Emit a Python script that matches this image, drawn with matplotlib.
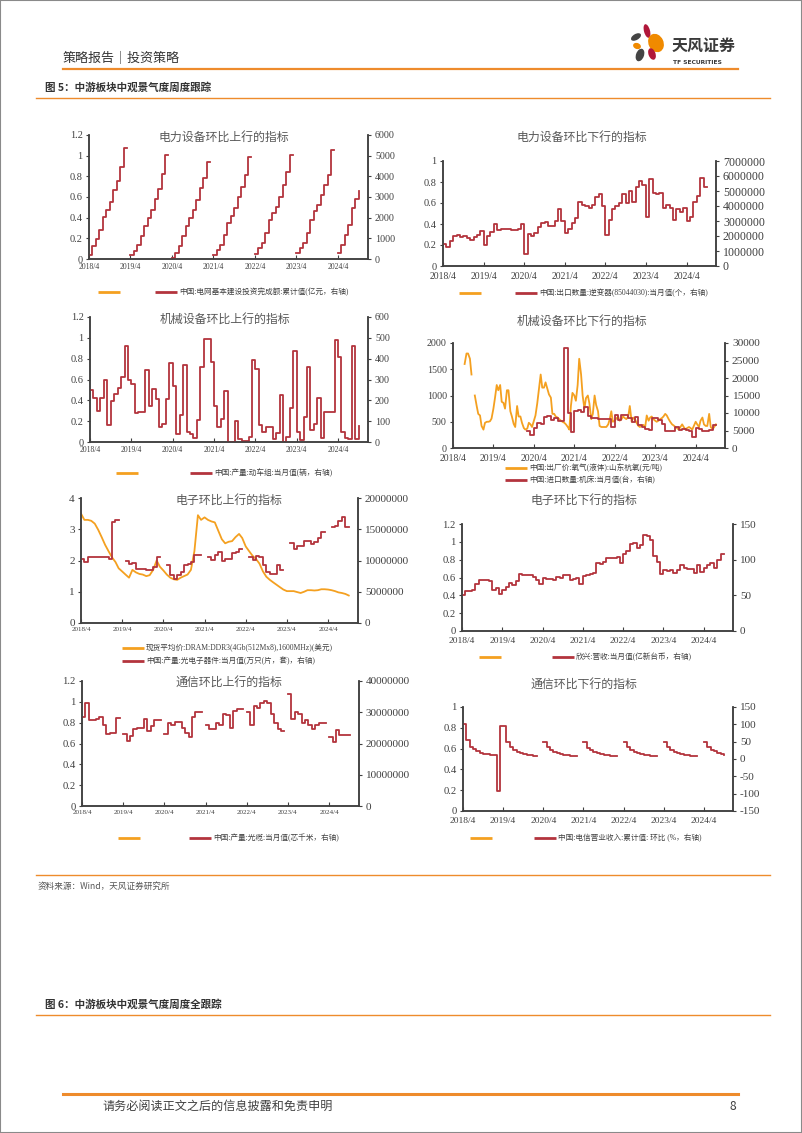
import numpy as np
import pandas as pd
import matplotlib
matplotlib.use("Agg")
import matplotlib.pyplot as plt
from matplotlib.patches import Ellipse, Rectangle
from matplotlib.ticker import FuncFormatter

nan = np.nan

# ---------------- data (monthly, first point = 2018/4) ----------------
# 电力设备上行: 中国:电网基本建设投资完成额:累计值 (亿元)
grid_invest = [210, 610, 980, 1415, 2010, 2350, 2780, 3345, 3780, 4470, 5355, nan,
               209, 402, 691, 1125, 1576, 1978, 2380, 2894, 3393, 4100, 5033, nan,
               50, 300, 640, 1090, 1620, 1980, 2380, 2860, 3420, 3900, 4710, nan,
               210, 450, 690, 1170, 1740, 2060, 2460, 3020, 3460, 4070, 4950, nan,
               260, 530, 770, 1250, 1900, 2220, 2540, 3020, 3590, 4230, 5030, nan,
               290, 530, 770, 1250, 1900, 2300, 2620, 3100, 3590, 4070, 5275, nan,
               290, 690, 1170, 1660, 2490, 2910, 3310]

# 电力设备下行: 中国:出口数量:逆变器 当月值 (百万个)
inverter_mn = [1.5, 1.3, 1.7, 2.0, 2.05, 1.95, 2.0, 1.85, 1.75, 1.95, 2.1, 2.35,
               1.4, 2.0, 2.3, 2.8, 2.4, 2.5, 2.5, 2.45, 2.4, 2.4, 2.45, 2.8,
               0.8, 2.15, 2.0, 2.2, 2.6, 2.9, 2.95, 2.7, 2.65, 3.0, 3.8, 3.0,
               2.2, 2.5, 2.9, 3.2, 4.3, 4.1, 4.0, 3.9, 4.1, 4.6, 4.8, 4.0,
               2.1, 3.1, 3.8, 4.0, 4.2, 4.8, 4.2, 5.0, 4.3, 5.3, 5.7, 5.4,
               3.3, 5.8, 4.9, 4.8, 4.9, 3.9, 4.1, 3.9, 3.1, 3.8, 3.6, 3.9,
               3.0, 3.3, 4.3, 4.7, 5.9, 5.3, 5.3]

# 机械设备上行: 中国:产量:动车组:当月值 (辆)
emu_output = [250, 210, 150, 210, 300, 80, 195, 230, 260, 310, 460, 300,
              280, 140, 145, 145, 345, 175, 255, 205, 70, 85, 205, 380,
              270, 40, 130, 370, 50, 40, 20, 105, 360, 495, 495, 385,
              175, 70, 110, 245, 0, 0, 100, 15, 5, 5, 25, 395,
              350, 80, 50, 70, 70, 15, 45, 225, 0, 25, 165, 435,
              50, 10, 120, 360, 60, 85, 210, 20, 145, 145, 145, 490,
              410, 50, 20, 15, 460, 15, 75]

# 机械设备下行: 氧气(液体)出厂价, half-monthly from 2018-07-15 (元/吨)
oxygen_price = [1600, 1800, 1800, 1700, 1400, nan, 1000, 800, 650, 620,
                420, 350, 480, 500, 500, 510, 560, 750, 950, 1200,
                1100, 1200, 880, 860, 750, 1100, 1100, 700, 600, 460,
                400, 800, 600, 600, 480, 380, 350, 370, 480, 450,
                400, 520, 620, 850, 1100, 1400, 1150, 1150, 1250, 1120,
                1020, 960, 650, 650, 600, 580, 550, 520, 500, 480,
                450, 400, 350, 800, 1050, 1000, 900, 1200, 1700, 1400,
                1000, 750, 950, 1000, 850, 550, 650, 1000, 820, 700,
                420, 400, 400, 400, 400, 450, 550, 700, 500, 520,
                560, 600, 520, 550, 600, 570, 550, 600, 800, 500,
                580, 550, 480, 420, 400, 430, 440, 400, 620, 520,
                580, 600, 550, 520, 500, 520, 550, 570, 600, 650,
                620, 550, 500, 450, 430, 400, 380, 350, 400, 450,
                400, 350, 380, 400, 380, 350, 420, 500, 450, 400,
                520, 580, 450, 420, 420, 650, 400, 360, 400, 450]

# 机械设备下行: 中国:进口数量:机床:当月值 (台)
machine_tool = [nan] * 22 + [
    5000, 3800, 5600, 7200, 7000, 9000, 9200, 8000, 8500, 7600, 7600,
    28500, 10000, 4500, 10500, 10800, 10200, 11800, 9200, 8600, 8500, 8300, 8300,
    8300, 8400, 6000, 9500, 8000, 9500, 9500, 8500, 7500, 9000, 6500, 6000,
    5500, 5200, 8500, 8500, 8000, 7000, 4800, 4800, 5000, 6000, 5200, 5500,
    5200, 5000, 3200, 5600, 5300, 4800, 4800, 5200, 6500, 6500]

# 电子上行: DRAM DDR3 现货平均价 (美元)
dram_price = [3.5, 3.3, 3.3, 3.27, 3.18, 2.98, 2.75, 2.5, 2.3, 2.1, 1.95, 1.75,
              1.65, 1.55, 1.45, 1.7, 1.62, 1.57, 1.55, 1.5, 1.53, 1.7, 2.0, 1.8,
              1.68, 1.55, 1.45, 1.4, 1.38, 1.45, 1.5, 1.55, 1.7, 2.3, 3.45, 3.3,
              3.38, 3.3, 3.25, 3.22, 2.95, 2.68, 2.55, 2.6, 2.62, 2.75, 2.85, 2.72,
              2.45, 2.3, 2.15, 2.05, 1.9, 1.65, 1.48, 1.38, 1.3, 1.22, 1.14, 1.07,
              1.02, 1.02, 1.02, 0.99, 0.96, 1.0, 1.05, 1.05, 1.04, 1.05, 1.08, 1.08,
              1.07, 1.05, 1.02, 0.98, 0.96, 0.93, 0.88]

# 电子上行: 中国:产量:光电子器件:当月值 (百万只)
optoelec_mn = [10.2, 9.7, 10.5, 10.5, 10.5, 10.5, 10.5, 10.5, 10.3, 16.2, 16.5, nan,
               nan, 10.0, 9.4, 9.6, 8.7, 8.6, 8.6, 8.4, 8.4, 9.0, 10.5, nan,
               nan, 9.3, 7.7, 7.0, 7.7, 8.1, 9.3, 9.5, 9.7, 10.9, 10.9, nan,
               nan, 10.6, 10.1, 10.9, 11.3, 9.9, 10.2, 10.2, 11.2, 11.4, 11.8, nan,
               nan, 10.6, 10.1, 10.7, 10.6, 9.3, 8.1, 7.9, 7.9, 9.3, 8.5, nan,
               nan, 12.8, 11.8, 12.3, 12.3, 13.1, 13.1, 12.6, 13.0, 13.6, 14.5, nan,
               nan, 15.4, 15.6, 16.4, 16.9, 15.4, 15.3]

# 电子下行: 欣兴:营收:当月值 (亿新台币)
unimicron_rev = [50, 56, 56, 58, 66, 72, 72, 72, 70, 58, 60, 52,
                 58, 62, 67, 65, 70, 80, 79, 79, 78, 76, 71, 66,
                 75, 73, 73, 71, 76, 75, 79, 79, 72, 73, 74, 66,
                 77, 79, 80, 82, 95, 94, 97, 102, 102, 103, 104, 95,
                 108, 112, 122, 123, 117, 120, 135, 133, 128, 105, 97, 80,
                 86, 84, 86, 82, 85, 92, 88, 87, 87, 82, 92, 83,
                 89, 93, 95, 88, 100, 108, 108]

# 通信上行: 中国:产量:光缆:当月值 (百万芯千米)
fiber_cable_mn = [28.5, 33, 27.5, 27.5, 28, 28.5, 26, 23, 23.5, 23.5, 28.3, nan,
                  23, 20.8, 22.5, 24.5, 25, 25, 28, 24, 25.5, 27.5, 27.5, nan,
                  23, 26.5, 26, 27, 27, 25, 23.5, 22, 28.5, 30, 30, nan,
                  26, 24.5, 24.5, 26.5, 26, 29.5, 29, 25, 30.5, 31, 31, nan,
                  30, 26, 32, 31.5, 33, 33.5, 33, 29.5, 26.5, 24.5, 24, nan,
                  36, 28, 30, 29.5, 26.5, 27.5, 26, 24.5, 26, 26.5, 26.5, nan,
                  22, 20.5, 24.2, 22.7, 22.7, 22.7, 22.7]

# 通信下行: 中国:电信营业收入:累计值:环比 (%)
telecom_mom = [100, 55, 35, 28, 22, 18, 15, 13, 12, 11, -92, 96,
               96, 50, 34, 25, 20, 16, 14, 12, 11, 10, nan, nan,
               50, 34, 25, 20, 16, 14, 12, 11, 10, 10, nan, nan,
               50, 33, 26, 21, 17, 14, 12, 11, 10, 9, nan, nan,
               50, 34, 25, 20, 16, 14, 12, 11, 10, 10, nan, nan,
               50, 34, 25, 20, 17, 14, 12, 11, 10, 10, nan, nan,
               50, 35, 25, 22, 18, 15, 12]

titles = ["电力设备环比上行的指标", "电力设备环比下行的指标",
          "机械设备环比上行的指标", "机械设备环比下行的指标",
          "电子环比上行的指标", "电子环比下行的指标",
          "通信环比上行的指标", "通信环比下行的指标"]

tick_dates = pd.date_range("2018-04-01", "2024-04-01", freq="12MS")
tick_labels = [f"{d.year}/{d.month}" for d in tick_dates]


def monthly(vals):
    return pd.date_range("2018-04-01", periods=len(vals), freq="MS")


# ---------------- style ----------------
W, H = 802, 1133
ORANGE = "#F4A020"
RED = "#B3343D"
AXC = "#404040"
PAGE_OR = "#EE8B2C"
CJK = ["Noto Sans CJK SC", "DejaVu Sans"]
LEG = ["Liberation Serif", "Noto Sans CJK SC"]
plt.rcParams["font.family"] = ["Liberation Serif", "Noto Sans CJK SC"]
plt.rcParams["axes.unicode_minus"] = False

fig = plt.figure(figsize=(W / 100, H / 100), dpi=100)
X0, X1 = pd.Timestamp("2018-04-01"), pd.Timestamp("2024-12-22")


def panel(box, llim, lticks, rlim, rticks, lfs, rfs, xfs, xpad):
    l, t, r, b = box
    ax = fig.add_axes([l / W, 1 - b / H, (r - l) / W, (b - t) / H])
    ax.set_facecolor("none")
    ax2 = ax.twinx()
    ax.set_xlim(X0, X1)
    ax.set_ylim(*llim)
    ax.set_yticks(lticks)
    ax2.set_ylim(*rlim)
    ax2.set_yticks(rticks)
    ax.set_xticks(tick_dates)
    ax.set_xticklabels(tick_labels)
    for a in (ax, ax2):
        for s in a.spines.values():
            s.set_color(AXC)
            s.set_linewidth(1.1)
        a.spines["top"].set_visible(False)
    ax.tick_params(axis="x", direction="in", length=3, width=0.8, colors=AXC,
                   labelsize=xfs, pad=xpad)
    ax.tick_params(axis="y", direction="out", length=2.5, width=0.8, colors=AXC,
                   labelsize=lfs, pad=2)
    ax2.tick_params(axis="y", direction="out", length=2.5, width=0.8, colors=AXC,
                    labelsize=rfs, pad=2.5)
    ax.yaxis.set_major_formatter(FuncFormatter(lambda v, _: f"{v:g}"))
    ax2.yaxis.set_major_formatter(FuncFormatter(lambda v, _: f"{v:.0f}"))
    return ax, ax2


def step(a, vals, scale=1.0):
    a.plot(monthly(vals), np.array(vals, dtype=float) * scale, color=RED, lw=1.3,
           drawstyle="steps-post")


# panel 1
ax, ax2 = panel((89, 135, 368, 259), (0, 1.2), np.arange(0, 1.21, 0.2),
                (0, 6000), np.arange(0, 6001, 1000), 7.5, 7.2, 5.5, 3)
step(ax2, grid_invest)

# panel 2
ax, ax2 = panel((443, 161, 716, 266), (0, 1), np.arange(0, 1.01, 0.2),
                (0, 7000000), np.arange(0, 7000001, 1000000), 7.4, 8.6, 6.9, 4)
step(ax2, inverter_mn, 1e6)

# panel 3
ax, ax2 = panel((90, 317, 368, 442), (0, 1.2), np.arange(0, 1.21, 0.2),
                (0, 600), np.arange(0, 601, 100), 7.5, 7.2, 5.5, 3)
step(ax2, emu_output)

# panel 4
ax, ax2 = panel((453, 343, 725, 448), (0, 2000), np.arange(0, 2001, 500),
                (0, 30000), np.arange(0, 30001, 5000), 7.2, 8.2, 6.9, 4)
ox_dates = pd.date_range("2018-07-15", periods=len(oxygen_price), freq="SMS")
ax.plot(ox_dates, oxygen_price, color=ORANGE, lw=1.3)
step(ax2, machine_tool)

# panel 5
ax, ax2 = panel((81, 498, 358, 623), (0, 4), np.arange(0, 4.1, 1),
                (0, 20000000), np.arange(0, 20000001, 5000000), 8, 8, 5, 3)
ax.plot(monthly(dram_price), dram_price, color=ORANGE, lw=1.3)
step(ax2, optoelec_mn, 1e6)

# panel 6
ax, ax2 = panel((462, 524, 733, 631), (0, 1.2), np.arange(0, 1.21, 0.2),
                (0, 150), np.arange(0, 151, 50), 7.7, 8, 6.8, 4)
step(ax2, unimicron_rev)

# panel 7
ax, ax2 = panel((82, 681, 359, 806), (0, 1.2), np.arange(0, 1.21, 0.2),
                (0, 40000000), np.arange(0, 40000001, 10000000), 7.7, 8, 5, 3)
step(ax2, fiber_cable_mn, 1e6)

# panel 8
ax, ax2 = panel((463, 707, 733, 811), (0, 1), np.arange(0, 1.01, 0.2),
                (-150, 150), np.arange(-150, 151, 50), 7.7, 8, 6.8, 4)
step(ax2, telecom_mom)

# ---------------- page layer (pixel coordinates) ----------------
page = fig.add_axes([0, 0, 1, 1])
page.set_xlim(0, W)
page.set_ylim(H, 0)
page.axis("off")
page.patch.set_alpha(0)

title_pos = [(224, 137), (582, 137), (225, 319), (582, 321),
             (229, 500), (584, 500), (229, 682), (584, 684)]
for (tx, ty), tt in zip(title_pos, titles):
    page.text(tx, ty, tt, fontsize=8.6, color="#595959", ha="center", va="center",
              family=CJK)


def legend_item(x, y, color, label=None, fs=5.5):
    page.plot([x, x + 22], [y, y], color=color, lw=2, solid_capstyle="butt")
    if label:
        page.text(x + 24, y, label, fontsize=fs, color=AXC, ha="left", va="center",
                  family=LEG)


legend_item(98, 292, ORANGE)
legend_item(155, 292, RED, "中国:电网基本建设投资完成额:累计值(亿元，右轴)")
legend_item(459, 293, ORANGE)
legend_item(515, 293, RED, "中国:出口数量:逆变器(85044030):当月值(个，右轴)")
legend_item(116, 473, ORANGE)
legend_item(190, 473, RED, "中国:产量:动车组:当月值(辆，右轴)")
legend_item(505, 468, ORANGE, "中国:出厂价:氧气(液体):山东杭氧(元/吨)")
legend_item(505, 480, RED, "中国:进口数量:机床:当月值(台，右轴)")
legend_item(122, 648, ORANGE, "现货平均价:DRAM:DDR3(4Gb(512Mx8),1600MHz)(美元)")
legend_item(122, 661, RED, "中国:产量:光电子器件:当月值(万只(片，套)，右轴)")
legend_item(479, 657, ORANGE)
legend_item(552, 657, RED, "欣兴:营收:当月值(亿新台币，右轴)")
legend_item(118, 838, ORANGE)
legend_item(189, 838, RED, "中国:产量:光缆:当月值(芯千米，右轴)")
legend_item(470, 838, ORANGE)
legend_item(534, 838, RED, "中国:电信营业收入:累计值: 环比 (%，右轴)")

# header
page.text(63, 58, "策略报告｜投资策略", fontsize=9.4, color="#333333", va="center",
          family=CJK)
page.plot([63, 738], [69, 69], color=PAGE_OR, lw=1.6)
petals = [((647, 31), 6, 14, -15, "#B0173A"),
          ((636, 37), 11, 6, -30, "#444444"),
          ((656, 43), 15, 19, -25, "#F08A00"),
          ((637, 46), 8, 6, 20, "#F08A00"),
          ((640, 55), 8, 13, 20, "#444444"),
          ((652, 54), 7, 12, -20, "#B0173A")]
for c, w, h, ang, col in petals:
    page.add_patch(Ellipse(c, w, h, angle=ang, color=col, lw=0))
page.text(672, 46, "天风证券", fontsize=11.5, fontweight="bold", color="#3a3a3a",
          va="center", family=CJK)
page.text(673, 63, "TF SECURITIES", fontsize=4.3, fontweight="bold", color="#3a3a3a",
          va="center", family=["DejaVu Sans"])

page.text(45, 88, "图 5：中游板块中观景气度周度跟踪", fontsize=7.6, fontweight="bold",
          color="#333333", va="center", family=CJK)
page.plot([36, 770], [98, 98], color=PAGE_OR, lw=1.0)
page.plot([36, 770], [875, 875], color=PAGE_OR, lw=1.0)
page.text(38, 886, "资料来源：Wind，天风证券研究所", fontsize=6.2, color="#555555",
          va="center", family=CJK)
page.text(45, 1005, "图 6：中游板块中观景气度周度全跟踪", fontsize=7.6, fontweight="bold",
          color="#333333", va="center", family=CJK)
page.plot([36, 770], [1015, 1015], color=PAGE_OR, lw=1.0)

# footer
page.plot([63, 738], [1094, 1094], color=PAGE_OR, lw=2.2)
page.text(102, 1106, "请务必阅读正文之后的信息披露和免责申明", fontsize=8.7, color="#404040",
          va="center", family=CJK)
page.text(730, 1106, "8", fontsize=8.7, color="#404040", va="center", family=CJK)

fig.patches.append(Rectangle((0, 0), 1, 1, transform=fig.transFigure, fill=False,
                             ec="#8a8a8a", lw=1.5))

fig.savefig("out.png", dpi=100)
